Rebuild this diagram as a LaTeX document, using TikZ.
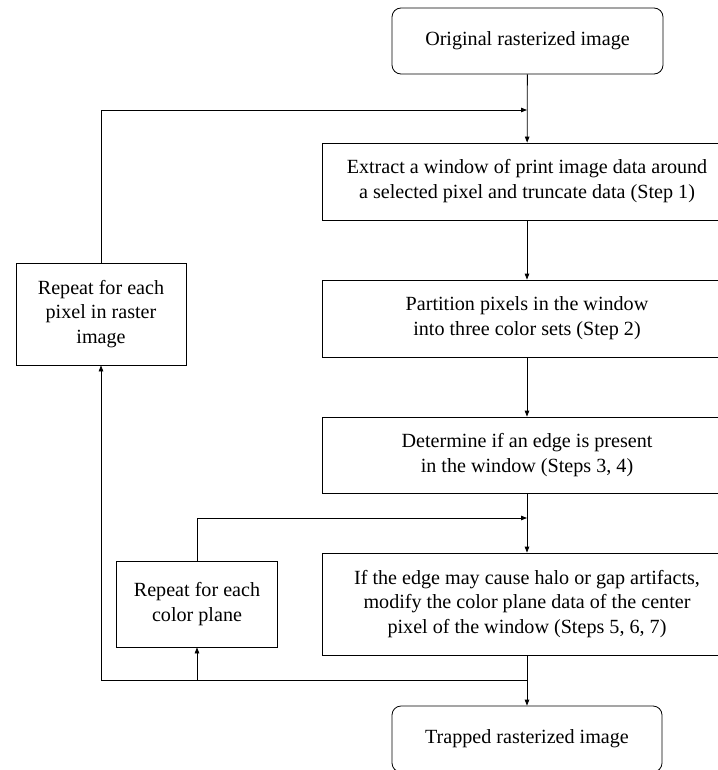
\documentclass[tikz,border=0pt]{standalone}
\usepackage{fontspec}
\setmainfont{Liberation Serif}
\newfontfamily\tmsfont{Liberation Serif}
\usetikzlibrary{arrows.meta}
\begin{document}
\begin{tikzpicture}[x=1bp,y=-1bp,
  every node/.style={font=\tmsfont\fontsize{20.2}{25}\selectfont},
  stepbox/.style={draw, line width=0.8bp, align=center, inner sep=0pt},
  termbox/.style={stepbox, rounded corners=9bp},
  conn/.style={line width=0.8bp, -{Triangle[length=6bp,width=4.5bp]}},
  plain/.style={line width=0.8bp}]
\useasboundingbox (0,0) rectangle (718,770);
\node[termbox, minimum width=271bp, minimum height=66bp] (top) at (527.5,41) {Original rasterized image};
\node[stepbox, minimum width=410bp, minimum height=77bp] (extract) at (527,181.5) {Extract a window of print image data around\\a selected pixel and truncate data (Step 1)};
\node[stepbox, minimum width=410bp, minimum height=77bp] (partition) at (527,318.5) {Partition pixels in the window\\into three color sets (Step 2)};
\node[stepbox, minimum width=410bp, minimum height=76bp] (determine) at (527,455) {Determine if an edge is present\\in the window (Steps 3, 4)};
\node[stepbox, minimum width=410bp, minimum height=102bp] (modify) at (527,604) {If the edge may cause halo or gap artifacts,\\modify the color plane data of the center\\pixel of the window (Steps 5, 6, 7)};
\node[termbox, minimum width=270bp, minimum height=66bp] (trapped) at (527,739) {Trapped rasterized image};
\node[stepbox, minimum width=170bp, minimum height=102bp] (pixel) at (101,314) {Repeat for each\\pixel in raster\\image};
\node[stepbox, minimum width=161bp, minimum height=86bp] (color) at (197,604) {Repeat for each\\color plane};
\coordinate (m1) at (527,110);
\coordinate (m2) at (527,518);
\coordinate (m3) at (527,680);
\draw[conn] (top) -- (extract);
\draw[conn] (pixel.north) |- (m1);
\draw[conn] (extract) -- (partition);
\draw[conn] (partition) -- (determine);
\draw[conn] (determine) -- (modify);
\draw[conn] (color.north) |- (m2);
\draw[conn] (modify) -- (trapped);
\draw[conn] (m3) -| (pixel.south);
\draw[conn] (color.south |- m3) -- (color.south);
\end{tikzpicture}
\end{document}
